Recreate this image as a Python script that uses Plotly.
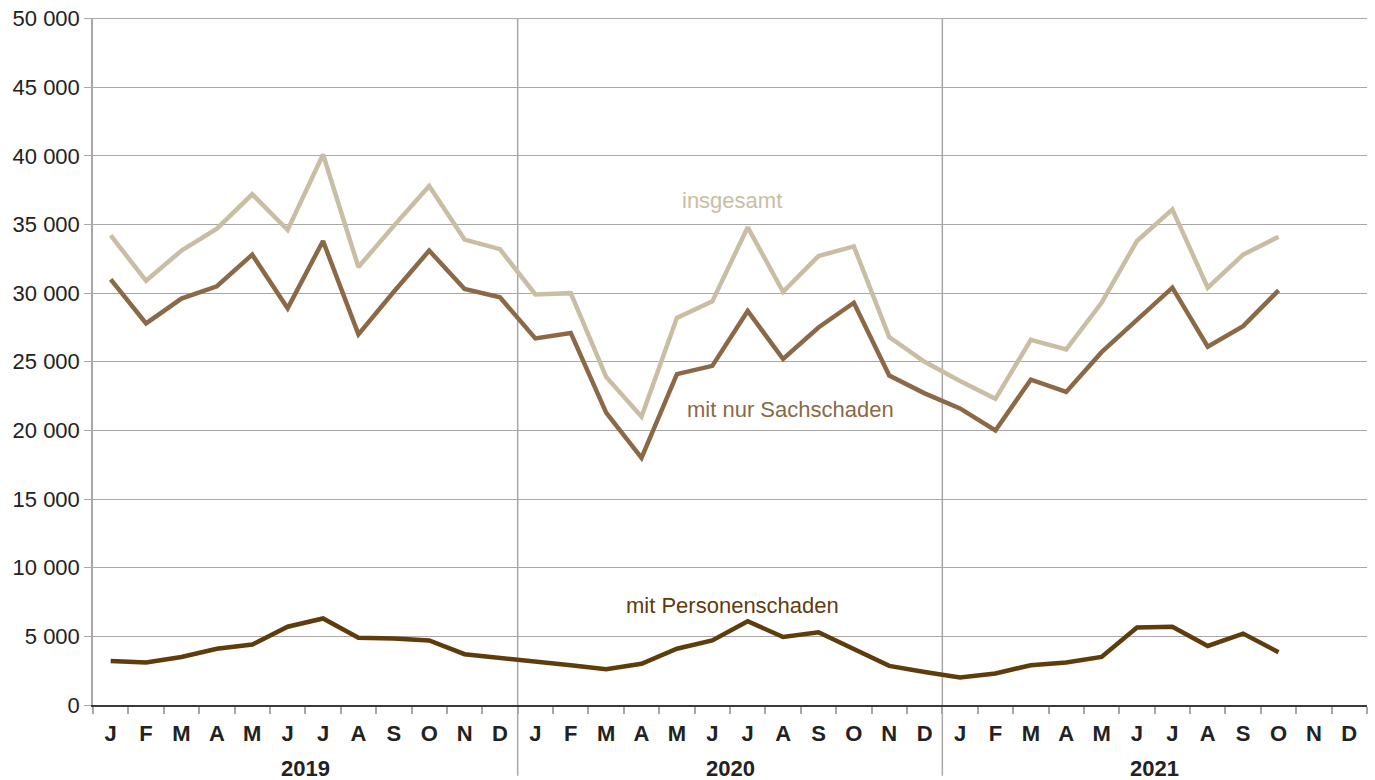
import plotly.graph_objects as go

months = ["J", "F", "M", "A", "M", "J", "J", "A", "S", "O", "N", "D"] * 3
years = ["2019", "2020", "2021"]

insgesamt = [34200, 30900, 33100, 34700, 37200, 34600, 40100, 31900, 34900, 37800, 33900, 33200,
             29900, 30000, 23900, 21000, 28200, 29400, 34800, 30100, 32700, 33400, 26800, 25000,
             23600, 22300, 26600, 25900, 29300, 33800, 36100, 30400, 32800, 34100]
sachschaden = [31000, 27800, 29600, 30500, 32800, 28900, 33800, 27000, 30100, 33100, 30300, 29700,
               26700, 27100, 21300, 18000, 24100, 24700, 28700, 25200, 27500, 29300, 24000, 22700,
               21600, 20000, 23700, 22800, 25700, 28100, 30400, 26100, 27600, 30200]
personen = [3200, 3100, 3500, 4100, 4400, 5700, 6300, 4900, 4850, 4700, 3700, 3450,
            3200, 2900, 2600, 3000, 4100, 4700, 6100, 4950, 5300, 4100, 2850, 2400,
            2000, 2300, 2900, 3100, 3500, 5650, 5700, 4300, 5200, 3850]

y_ticks = list(range(0, 50001, 5000))
y_ticktext = ["0", "5 000", "10 000", "15 000", "20 000", "25 000", "30 000",
              "35 000", "40 000", "45 000", "50 000"]

c_ins = "#c9bea3"
c_sach = "#8b6946"
c_pers = "#5e3c0b"
font = "Liberation Sans, Arial, sans-serif"

x_all = list(range(36))

fig = go.Figure()
for vals, col in [(insgesamt, c_ins), (sachschaden, c_sach), (personen, c_pers)]:
    fig.add_trace(go.Scatter(x=x_all[:len(vals)], y=vals, mode="lines",
                             line=dict(color=col, width=4.5), hoverinfo="skip", showlegend=False))

# year separators
for xb in [11.5, 23.5]:
    fig.add_shape(type="line", xref="x", yref="paper", x0=xb, x1=xb, y0=-0.103, y1=1,
                  line=dict(color="#a8a8a8", width=1.5), layer="below")

# top gridline
fig.add_shape(type="line", xref="paper", yref="y", x0=-0.0055, x1=1, y0=y_ticks[-1], y1=y_ticks[-1],
              line=dict(color="#a8a8a8", width=1), layer="below")

# year labels
for i, yr in enumerate(years):
    fig.add_annotation(x=i * 12 + 5.5, y=-0.092, xref="x", yref="paper", text="<b>%s</b>" % yr,
                       showarrow=False, font=dict(family=font, size=22, color="#222222"),
                       xanchor="center", yanchor="middle")

# series labels
fig.add_annotation(x=17.56, y=36750, text="insgesamt", showarrow=False,
                   font=dict(family=font, size=22, color=c_ins))
fig.add_annotation(x=19.2, y=21500, text="mit nur Sachschaden", showarrow=False,
                   font=dict(family=font, size=22, color=c_sach))
fig.add_annotation(x=17.58, y=7250, text="mit Personenschaden", showarrow=False,
                   font=dict(family=font, size=22, color=c_pers))

fig.update_layout(
    width=1375, height=780,
    margin=dict(l=93, r=8, t=18, b=75),
    plot_bgcolor="white", paper_bgcolor="white",
    font=dict(family=font, size=22, color="#222222"),
    hovermode=False,
    xaxis=dict(range=[-0.5, 35.5], tickvals=x_all, ticktext=["<b>%s</b>" % m for m in months],
               ticks="", showgrid=False, zeroline=False, showline=True, linecolor="#3a3a3a",
               linewidth=2, ticklabelstandoff=8, tickfont=dict(size=22, color="#222222"),
               automargin=False,
               minor=dict(tick0=-0.5, dtick=1, ticks="outside", ticklen=7, tickcolor="#a8a8a8",
                          tickwidth=1.5, showgrid=False)),
    yaxis=dict(range=[0, 50040], tickvals=y_ticks, ticktext=y_ticktext, showgrid=True,
               gridcolor="#a8a8a8", gridwidth=1, zeroline=False, showline=True,
               linecolor="#a8a8a8", linewidth=1.5, ticks="outside", ticklen=7,
               tickcolor="#a8a8a8", tickfont=dict(size=22, color="#222222"),
               ticklabeloverflow="allow", automargin=False),
)

fig.write_html("out.html", config={"displayModeBar": False},
               post_script="document.body.style.margin='0';")
